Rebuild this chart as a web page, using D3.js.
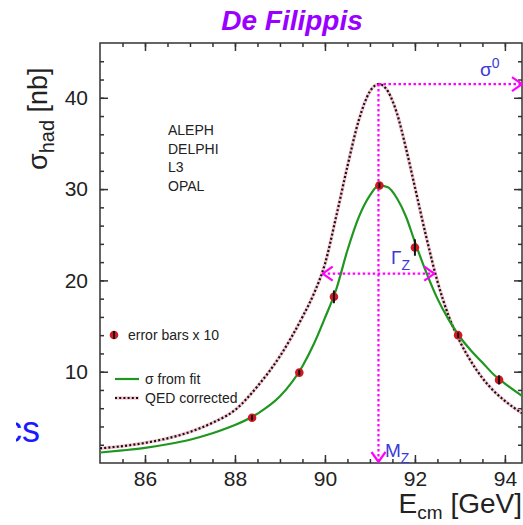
<!DOCTYPE html>
<html>
<head>
<meta charset="utf-8">
<script src="https://cdn.jsdelivr.net/npm/d3@7"></script>
<style>
body { margin: 0; background: #fff; }
svg { font-family: "Liberation Sans", Arial, sans-serif; }
</style>
</head>
<body>
<div id="chart"></div>
<script>
// curve samples (E in GeV, sigma in nb)
const energy   = [85, 85.5, 86, 86.5, 87, 87.5, 88, 88.5, 89, 89.5, 89.75, 90, 90.25, 90.5, 90.75, 91, 91.2, 91.4, 91.6, 91.8, 92, 92.25, 92.5, 92.75, 93, 93.25, 93.5, 93.75, 94, 94.38];
const fitSigma = [1.15, 1.38, 1.65, 2.05, 2.55, 3.25, 4.15, 5.4, 7.3, 10.6, 13.0, 15.9, 19.0, 23.3, 26.9, 29.3, 30.4, 30.2, 29.0, 27.0, 24.2, 20.9, 18.0, 15.7, 13.8, 12.3, 11.0, 9.7, 8.7, 7.35];
const qedSigma = [1.6, 1.85, 2.2, 2.7, 3.4, 4.4, 5.8, 8.4, 11.7, 16.0, 18.5, 21.8, 27.0, 32.5, 37.5, 40.7, 41.5, 40.7, 38.3, 34.5, 30.2, 24.8, 19.9, 16.1, 13.3, 11.1, 9.3, 7.9, 6.8, 5.45];

// measured points, error bars already x10
const pointE     = [88.38, 89.43, 90.2, 91.21, 92.0, 92.96, 93.87];
const pointSigma = [4.96, 9.9, 18.2, 30.4, 23.6, 14.0, 9.1];
const pointErr   = [0.3, 0.3, 0.7, 0.3, 0.9, 0.3, 0.5];

const xMajor = [86, 88, 90, 92, 94];
const yMajor = [10, 20, 30, 40];
const experiments = ["ALEPH", "DELPHI", "L3", "OPAL"];

// Z line shape parameters marked by the arrows
const massZ = 91.19, sigma0 = 41.5, halfLow = 89.95, halfHigh = 92.43;

const plotLeft = 100, plotRight = 522, plotTop = 43, plotBottom = 463;

const svg = d3.select("#chart")
    .append("svg")
    .attr("width", 523)
    .attr("height", 525);

const x = d3.scaleLinear().domain([85, 94.38]).range([plotLeft, plotRight]);
const y = d3.scaleLinear().domain([0, 46]).range([plotBottom, plotTop]);

const xMinor = d3.range(85.5, 94.4, 0.5);
const yMinor = d3.range(2, 46, 2);

// title
svg.append("text")
    .attr("x", 292).attr("y", 30)
    .attr("text-anchor", "middle")
    .attr("font-size", 28).attr("font-weight", "bold").attr("font-style", "italic")
    .attr("fill", "#9a00ff")
    .text("De Filippis");

// axes, ticks pointing inward on all four sides
function drawAxis(axisFn, pos, values, size, labels, pad) {
    const g = svg.append("g")
        .attr("transform", pos)
        .call(axisFn.tickValues(values).tickSize(size).tickPadding(pad || 3)
            .tickFormat(labels ? d3.format("d") : ""));
    g.select(".domain").remove();
    g.selectAll(".tick line").attr("stroke", "#333").attr("stroke-width", 1.5);
    g.selectAll(".tick text").attr("font-size", 21).attr("fill", "#222")
        .attr("font-family", "Liberation Sans, Arial, sans-serif");
    return g;
}
drawAxis(d3.axisBottom(x), `translate(0,${plotBottom})`, xMinor, -4, false);
drawAxis(d3.axisBottom(x), `translate(0,${plotBottom})`, xMajor, -8, true, 8);
drawAxis(d3.axisTop(x), `translate(0,${plotTop})`, xMinor, -4, false);
drawAxis(d3.axisTop(x), `translate(0,${plotTop})`, xMajor, -8, false);
drawAxis(d3.axisLeft(y), `translate(${plotLeft},0)`, yMinor, -4, false);
drawAxis(d3.axisLeft(y), `translate(${plotLeft},0)`, yMajor, -8, true, 12);
drawAxis(d3.axisRight(y), `translate(${plotRight},0)`, yMinor, -4, false);
drawAxis(d3.axisRight(y), `translate(${plotRight},0)`, yMajor, -8, false);

svg.append("rect")
    .attr("x", plotLeft).attr("y", plotTop)
    .attr("width", plotRight - plotLeft).attr("height", plotBottom - plotTop)
    .attr("fill", "none").attr("stroke", "#333").attr("stroke-width", 1.5);

// axis titles
const xt = svg.append("text")
    .attr("x", 522).attr("y", 513)
    .attr("text-anchor", "end")
    .attr("font-size", 28).attr("fill", "#222");
xt.append("tspan").text("E");
xt.append("tspan").attr("dy", 6).attr("font-size", 19).text("cm");
xt.append("tspan").attr("dy", -6).text(" [GeV]");

const yt = svg.append("text")
    .attr("transform", "translate(47,170) rotate(-90)")
    .attr("font-size", 27).attr("fill", "#222");
yt.append("tspan").text("σ");
yt.append("tspan").attr("dy", 7).attr("font-size", 20).text("had");
yt.append("tspan").attr("dy", -7).text(" [nb]");

// clipped word at the left margin
svg.append("clipPath").attr("id", "leftclip")
    .append("rect").attr("x", 16).attr("y", 400).attr("width", 60).attr("height", 60);
svg.append("text")
    .attr("clip-path", "url(#leftclip)")
    .attr("x", 40).attr("y", 442)
    .attr("text-anchor", "end")
    .attr("font-size", 36).attr("fill", "#1a1aff")
    .text("cs");

// curves
svg.append("clipPath").attr("id", "plotclip")
    .append("rect").attr("x", plotLeft).attr("y", plotTop)
    .attr("width", plotRight - plotLeft).attr("height", plotBottom - plotTop);

const line = d3.line()
    .x(d => x(d[0]))
    .y(d => y(d[1]))
    .curve(d3.curveMonotoneX);

const plot = svg.append("g").attr("clip-path", "url(#plotclip)");

const qedData = energy.map((e, i) => [e, qedSigma[i]]);
const fitData = energy.map((e, i) => [e, fitSigma[i]]);

plot.append("path")
    .attr("d", line(qedData))
    .attr("fill", "none").attr("stroke", "#f5c4d0").attr("stroke-width", 3.4);
plot.append("path")
    .attr("d", line(qedData))
    .attr("fill", "none").attr("stroke", "#111").attr("stroke-width", 2.2)
    .attr("stroke-dasharray", "2,2.2");
plot.append("path")
    .attr("d", line(fitData))
    .attr("fill", "none").attr("stroke", "#1f961f").attr("stroke-width", 2.2);

// magenta markers for M_Z, sigma0 and Gamma_Z
const defs = svg.append("defs");
defs.append("marker")
    .attr("id", "chev")
    .attr("viewBox", "0 0 12 16")
    .attr("refX", 11).attr("refY", 8)
    .attr("markerWidth", 12).attr("markerHeight", 16)
    .attr("markerUnits", "userSpaceOnUse")
    .attr("orient", "auto-start-reverse")
    .append("path")
    .attr("d", "M1,1 L11,8 L1,15")
    .attr("fill", "none").attr("stroke", "#ff00ff").attr("stroke-width", 2.2);

const mag = svg.append("g")
    .attr("stroke", "#ff00ff").attr("stroke-width", 2.2)
    .attr("stroke-dasharray", "2.5,2.5").attr("fill", "none");

mag.append("line")
    .attr("x1", x(massZ)).attr("y1", y(sigma0))
    .attr("x2", x(massZ)).attr("y2", y(0) - 1)
    .attr("marker-end", "url(#chev)");
mag.append("line")
    .attr("x1", x(massZ)).attr("y1", y(sigma0))
    .attr("x2", plotRight).attr("y2", y(sigma0))
    .attr("marker-end", "url(#chev)");
mag.append("line")
    .attr("x1", x(halfLow)).attr("y1", y(sigma0 / 2))
    .attr("x2", x(halfHigh)).attr("y2", y(sigma0 / 2))
    .attr("marker-start", "url(#chev)")
    .attr("marker-end", "url(#chev)");

// blue labels
function sublabel(px, py, main, sub, sup) {
    const t = svg.append("text")
        .attr("x", px).attr("y", py)
        .attr("font-size", 19).attr("fill", "#3a3ad8");
    t.append("tspan").text(main);
    t.append("tspan").attr("dy", sup ? -8 : 6).attr("font-size", 14).text(sub);
}
sublabel(480, 76, "σ", "0", true);
sublabel(391, 264, "Γ", "Z", false);
sublabel(385, 457, "M", "Z", false);

// data points
const pts = svg.append("g");
pointE.forEach((e, i) => {
    pts.append("circle")
        .attr("cx", x(e)).attr("cy", y(pointSigma[i])).attr("r", 4.3)
        .attr("fill", "#d01a22");
    pts.append("line")
        .attr("x1", x(e)).attr("x2", x(e))
        .attr("y1", y(pointSigma[i] - pointErr[i]))
        .attr("y2", y(pointSigma[i] + pointErr[i]))
        .attr("stroke", "#111").attr("stroke-width", 2);
});

// experiments list
experiments.forEach((name, i) => {
    svg.append("text")
        .attr("x", 168).attr("y", 135 + i * 18.5)
        .attr("font-size", 14).attr("fill", "#222")
        .text(name);
});

// legend
svg.append("circle").attr("cx", 114).attr("cy", 335).attr("r", 4.3).attr("fill", "#d01a22");
svg.append("line").attr("x1", 114).attr("x2", 114).attr("y1", 331).attr("y2", 339)
    .attr("stroke", "#111").attr("stroke-width", 2);
svg.append("text").attr("x", 128).attr("y", 340)
    .attr("font-size", 14).attr("fill", "#222").text("error bars x 10");

svg.append("line").attr("x1", 115).attr("x2", 139).attr("y1", 379).attr("y2", 379)
    .attr("stroke", "#1f961f").attr("stroke-width", 2.2);
svg.append("text").attr("x", 145).attr("y", 384)
    .attr("font-size", 14).attr("fill", "#222").text("σ from fit");

svg.append("line").attr("x1", 115).attr("x2", 139).attr("y1", 398).attr("y2", 398)
    .attr("stroke", "#f5c4d0").attr("stroke-width", 3.4);
svg.append("line").attr("x1", 115).attr("x2", 139).attr("y1", 398).attr("y2", 398)
    .attr("stroke", "#111").attr("stroke-width", 2.2).attr("stroke-dasharray", "2,2.2");
svg.append("text").attr("x", 145).attr("y", 403)
    .attr("font-size", 14).attr("fill", "#222").text("QED corrected");
</script>
</body>
</html>
